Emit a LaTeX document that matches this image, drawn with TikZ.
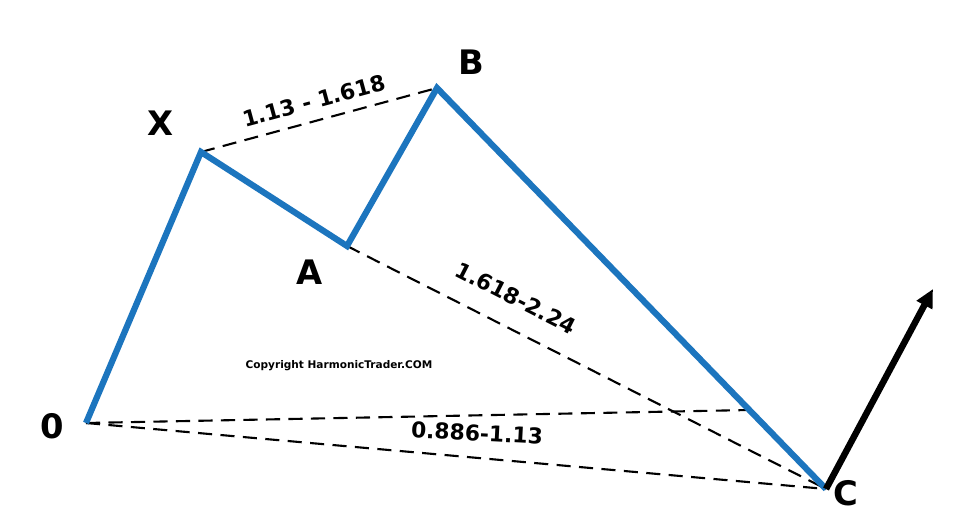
\documentclass[tikz,border=0pt]{standalone}
\usepackage{fontspec}
\setmainfont{DejaVu Sans}
\usetikzlibrary{arrows.meta}
\definecolor{legblue}{RGB}{28,117,190}
\tikzset{
  leg/.style={legblue, line width=4.4pt, line join=miter},
  ratio/.style={black, line width=1.5pt, dash pattern=on 10pt off 6pt},
  ptlabel/.style={font=\bfseries\fontsize{24}{24}\selectfont},
  ratiolabel/.style={font=\bfseries\fontsize{15.5}{15.5}\selectfont}
}
\begin{document}
\begin{tikzpicture}[x=0.025cm, y=-0.025cm]
				\useasboundingbox[fill=white] (0,0) rectangle (975,530);
				% pattern points
				\coordinate (O) at (86,423);
				\coordinate (X) at (201,152);
				\coordinate (A) at (347,246);
				\coordinate (B) at (437,88);
				\coordinate (C) at (826,489);
				\coordinate (D) at (750,410);
				\coordinate (T) at (933,289);

				% ratio lines
				\draw[ratio] (X) -- (B) node[ratiolabel, midway, above=4pt, sloped] {1.13 - 1.618};
				\draw[ratio] (A) -- (C);
				\node[ratiolabel, rotate=-27] (ac) at (516,298) {1.618-2.24};
				\draw[ratio] (O) -- (D);
				\draw[ratio] (O) -- (C);
				\node[ratiolabel, rotate=-3] (oc) at (477,433) {0.886-1.13};

				% legs
				\draw[leg] (O) -- (X) -- (A) -- (B) -- (C);
				\draw[-{Triangle[length=13pt, width=12pt]}, line width=4.6pt] (C) -- (T);

				\node[ptlabel] (lx) at (161,123) {X};
				\node[ptlabel] (lb) at (471,62) {B};
				\node[ptlabel] (la) at (310,272) {A};
				\node[ptlabel] (lo) at (52,426) {0};
				\node[ptlabel] (lc) at (846,493) {C};
				\node[font=\bfseries\fontsize{7.5}{7.5}\selectfont] (copy) at (339,366) {Copyright HarmonicTrader.COM};
			\end{tikzpicture}
\end{document}
